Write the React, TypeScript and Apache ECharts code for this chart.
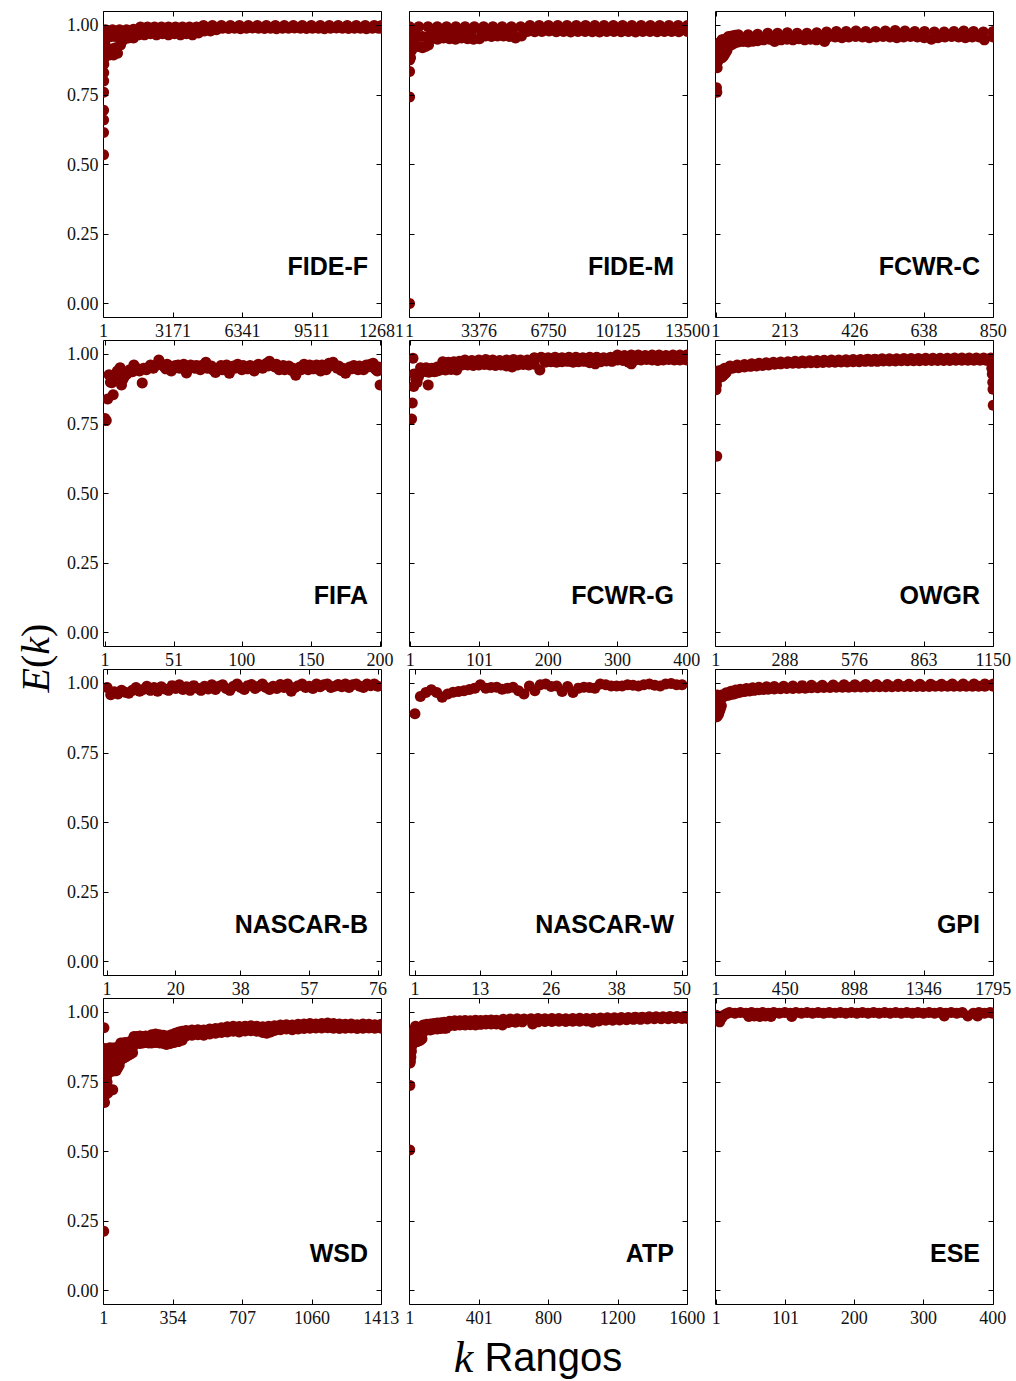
import React, { useEffect, useRef } from "react";
import * as echarts from "echarts";

type P = [number, number][];

// ---------- panel metadata ----------
const panelNames = ["FIDE-F", "FIDE-M", "FCWR-C", "FIFA", "FCWR-G", "OWGR", "NASCAR-B", "NASCAR-W", "GPI", "WSD", "ATP", "ESE"];
const panelSizes = [12681, 13500, 850, 200, 400, 1150, 76, 50, 1795, 1413, 1600, 400];
const xTicks: number[][] = [
  [1, 3171, 6341, 9511, 12681],
  [1, 3376, 6750, 10125, 13500],
  [1, 213, 426, 638, 850],
  [1, 51, 100, 150, 200],
  [1, 101, 200, 300, 400],
  [1, 288, 576, 863, 1150],
  [1, 20, 38, 57, 76],
  [1, 13, 26, 38, 50],
  [1, 450, 898, 1346, 1795],
  [1, 354, 707, 1060, 1413],
  [1, 401, 800, 1200, 1600],
  [1, 101, 200, 300, 400],
];
const yTicks = [0, 0.25, 0.5, 0.75, 1.0];

// ---------- data (k, E(k)) ----------
const fideF: P = [
  [1, 0.535], [2, 0.615], [3, 0.66], [4, 0.695], [5, 0.76], [7, 0.8], [10, 0.83], [14, 0.86], [20, 0.88], [30, 0.9], [45, 0.92], [65, 0.94], [90, 0.96], [120, 0.975],
  [275, 0.894], [457, 0.894], [640, 0.9], [776, 0.93], [913, 0.948], [1141, 0.955], [1369, 0.955], [1597, 0.966], [1871, 0.966], [2144, 0.97], [2418, 0.966], [2692, 0.97], [2965, 0.966], [3239, 0.97], [3513, 0.966], [3786, 0.97], [4060, 0.966], [4333, 0.973], [4607, 0.98], [4880, 0.98], [5154, 0.984], [5428, 0.99], [5702, 0.989], [5976, 0.99], [6249, 0.988], [6523, 0.99], [6796, 0.991], [7070, 0.99], [7344, 0.989], [7617, 0.99], [7891, 0.988], [8164, 0.99], [8438, 0.99], [8712, 0.991], [8985, 0.99], [9259, 0.989], [9532, 0.99], [9806, 0.99], [10080, 0.988], [10353, 0.99], [10627, 0.991], [10900, 0.99], [11174, 0.989], [11448, 0.99], [11721, 0.99], [11995, 0.988], [12268, 0.99], [12542, 0.99], [12681, 0.99],
  [183, 0.915], [366, 0.915], [549, 0.92], [183, 0.96], [366, 0.96], [549, 0.96], [731, 0.96], [913, 0.968], [1141, 0.97], [1369, 0.972],
  [92, 0.984], [411, 0.984], [731, 0.984], [1050, 0.984], [1369, 0.986], [1688, 0.994], [2007, 0.994], [2327, 0.994], [2646, 0.994], [2965, 0.994], [3284, 0.994], [3603, 0.994], [3923, 0.994], [4242, 0.994], [4561, 1.0], [4970, 1.0], [5380, 1.0], [5790, 1.0], [6200, 1.0], [6610, 1.0], [7020, 1.0], [7430, 1.0], [7840, 1.0], [8250, 1.0], [8660, 1.0], [9070, 1.0], [9480, 1.0], [9890, 1.0], [10300, 1.0], [10710, 1.0], [11120, 1.0], [11530, 1.0], [11940, 1.0], [12350, 1.0], [12681, 1.0],
];

const fideM: P = [
  [1, 0.0], [2, 0.743], [3, 0.834], [5, 0.876],
  [50, 0.884], [100, 0.91], [150, 0.94], [200, 0.96], [250, 0.98],
  [340, 0.924], [486, 0.924], [632, 0.92], [778, 0.924], [923, 0.93], [1070, 0.952], [1360, 0.95], [1652, 0.955], [1943, 0.952], [2234, 0.95], [2526, 0.955], [2817, 0.952], [3108, 0.95], [3400, 0.952], [3691, 0.962], [3983, 0.96], [4274, 0.962], [4565, 0.962], [4857, 0.96], [5148, 0.955], [5440, 0.962], [5730, 0.978], [6080, 0.977], [6430, 0.978], [6780, 0.98], [7130, 0.977], [7480, 0.978], [7830, 0.976], [8180, 0.978], [8530, 0.978], [8880, 0.977], [9230, 0.976], [9580, 0.978], [9930, 0.978], [10280, 0.977], [10630, 0.978], [10980, 0.976], [11330, 0.978], [11680, 0.978], [12030, 0.977], [12380, 0.978], [12730, 0.978], [13080, 0.977], [13500, 0.978],
  [340, 0.96], [632, 0.96], [923, 0.96], [1070, 0.975], [1500, 0.975], [2000, 0.975], [2500, 0.975], [3000, 0.975], [3500, 0.978], [4000, 0.98], [4500, 0.98], [5000, 0.98],
  [1, 0.995], [450, 0.995], [900, 0.995], [1350, 0.995], [1800, 0.995], [2250, 0.995], [2700, 0.995], [3150, 0.995], [3600, 0.995], [4050, 0.995], [4500, 0.995], [4950, 0.995], [5400, 0.995], [5850, 1.0], [6300, 1.0], [6750, 1.0], [7200, 1.0], [7650, 1.0], [8100, 1.0], [8550, 1.0], [9000, 1.0], [9450, 1.0], [9900, 1.0], [10350, 1.0], [10800, 1.0], [11250, 1.0], [11700, 1.0], [12150, 1.0], [12600, 1.0], [13050, 1.0], [13500, 1.0],
];

const fcwrC: P = [
  [3, 0.776], [4, 0.76],
  [5, 0.848], [7, 0.87], [9, 0.89], [11, 0.91], [13, 0.93], [15, 0.94],
  [20, 0.884], [25, 0.89], [30, 0.9], [35, 0.91], [20, 0.916], [30, 0.925], [20, 0.948], [28, 0.95], [36, 0.955],
  [40, 0.93], [48, 0.93], [56, 0.935], [64, 0.94], [40, 0.96], [50, 0.962], [60, 0.965],
  [70, 0.94], [85, 0.942], [100, 0.94], [115, 0.943], [129, 0.945], [147, 0.948], [165, 0.95], [181, 0.942], [201, 0.948], [219, 0.95], [237, 0.948], [255, 0.952], [273, 0.948], [291, 0.95], [309, 0.948], [327, 0.95], [334, 0.942], [345, 0.958], [366, 0.958], [387, 0.956], [408, 0.958], [429, 0.96], [450, 0.958], [471, 0.956], [492, 0.958], [513, 0.96], [534, 0.958], [555, 0.956], [576, 0.958], [597, 0.96], [618, 0.958], [639, 0.956], [661, 0.95], [681, 0.956], [702, 0.958], [723, 0.96], [744, 0.958], [765, 0.956], [786, 0.958], [807, 0.958], [823, 0.948], [850, 0.958],
  [70, 0.966], [100, 0.966], [129, 0.968], [160, 0.972], [190, 0.972], [220, 0.974], [250, 0.972], [280, 0.972], [310, 0.974], [340, 0.976], [370, 0.978], [400, 0.978], [430, 0.98], [460, 0.978], [490, 0.978], [520, 0.98], [550, 0.982], [580, 0.98], [610, 0.978], [640, 0.978], [670, 0.976], [700, 0.976], [730, 0.978], [760, 0.98], [790, 0.978], [820, 0.976], [850, 0.978],
];

const fifa: P = [
  [1, 0.77], [2, 0.762], [3, 0.84], [4, 0.927], [5, 0.9], [6, 0.898], [7, 0.855], [8, 0.92], [9, 0.93], [10, 0.94], [12, 0.952], [13, 0.89], [14, 0.91], [15, 0.92], [17, 0.93], [19, 0.945], [21, 0.938], [22, 0.962], [24, 0.95], [26, 0.94], [28, 0.897], [29, 0.95], [31, 0.945], [33, 0.955], [34, 0.962], [36, 0.95], [38, 0.96], [40, 0.98], [42, 0.965],
  [44, 0.955], [46, 0.965], [49, 0.94], [52, 0.96], [55, 0.95], [58, 0.965], [60, 0.933], [62, 0.955], [64, 0.958], [67, 0.96], [70, 0.945], [74, 0.972], [76, 0.955], [79, 0.945], [81, 0.935], [85, 0.96], [88, 0.955], [91, 0.932], [94, 0.958], [97, 0.965], [100, 0.945], [103, 0.955], [106, 0.96], [109, 0.94], [112, 0.965], [115, 0.95], [118, 0.968], [120, 0.975], [124, 0.955], [127, 0.945], [130, 0.96], [133, 0.95], [136, 0.942], [139, 0.925], [142, 0.955], [145, 0.965], [148, 0.945], [151, 0.958], [154, 0.962], [157, 0.94], [160, 0.955], [163, 0.968], [166, 0.972], [169, 0.95], [172, 0.942], [175, 0.932], [178, 0.955], [181, 0.96], [184, 0.945], [187, 0.952], [190, 0.962], [193, 0.965], [195, 0.968], [197, 0.945], [198, 0.94], [199, 0.955], [200, 0.89],
  [45, 0.948], [48, 0.958], [51, 0.95], [54, 0.962], [57, 0.952], [59, 0.945], [63, 0.962], [66, 0.95], [69, 0.958], [72, 0.962], [75, 0.95], [78, 0.958], [80, 0.95], [83, 0.948], [86, 0.945], [89, 0.962], [92, 0.948], [95, 0.95], [98, 0.955], [101, 0.96], [104, 0.948], [107, 0.952], [110, 0.958], [113, 0.955], [116, 0.962], [119, 0.958], [122, 0.962], [125, 0.965], [128, 0.952], [131, 0.945], [134, 0.958], [137, 0.95], [140, 0.94], [143, 0.945], [146, 0.955], [149, 0.962], [152, 0.948], [155, 0.952], [158, 0.962], [161, 0.945], [164, 0.958], [167, 0.96], [170, 0.958], [173, 0.95], [176, 0.945], [179, 0.948], [182, 0.952], [185, 0.958], [188, 0.945], [191, 0.955], [194, 0.958], [196, 0.95],
];

const fcwrG: P = [
  [3, 0.768], [4, 0.825], [5, 0.986], [6, 0.885], [27, 0.89],
  [7, 0.93], [9, 0.91], [11, 0.9], [13, 0.92], [15, 0.935],
  [16, 0.938], [20, 0.94], [24, 0.938], [28, 0.936], [32, 0.94], [36, 0.938], [40, 0.94],
  [16, 0.952], [24, 0.952], [32, 0.95], [40, 0.955],
  [44, 0.944], [52, 0.944], [60, 0.946], [68, 0.944], [76, 0.962], [84, 0.962], [92, 0.96], [100, 0.962], [108, 0.964], [116, 0.962], [124, 0.96], [132, 0.962], [140, 0.958], [148, 0.955], [156, 0.962], [164, 0.964], [172, 0.962], [180, 0.965], [188, 0.944], [196, 0.972], [204, 0.974], [212, 0.972], [220, 0.974], [228, 0.975], [236, 0.972], [244, 0.974], [252, 0.975], [260, 0.97], [268, 0.966], [276, 0.974], [284, 0.976], [292, 0.975], [300, 0.98], [308, 0.978], [316, 0.972], [320, 0.966], [326, 0.98], [334, 0.98], [342, 0.982], [350, 0.98], [358, 0.978], [366, 0.98], [374, 0.982], [382, 0.98], [390, 0.98], [398, 0.982], [400, 0.98],
  [48, 0.974], [56, 0.972], [64, 0.974], [72, 0.975], [80, 0.98], [90, 0.978], [100, 0.98], [110, 0.982], [120, 0.98], [130, 0.978], [140, 0.98], [150, 0.982], [160, 0.98], [170, 0.98], [180, 0.988], [190, 0.99], [200, 0.988], [210, 0.99], [220, 0.988], [230, 0.99], [240, 0.99], [250, 0.988], [260, 0.99], [270, 0.99], [280, 0.988], [290, 0.99], [300, 0.998], [310, 0.996], [320, 0.998], [330, 0.998], [340, 0.996], [350, 0.998], [360, 0.998], [370, 0.996], [380, 0.998], [390, 0.998], [400, 0.998],
];

const owgr: P = [
  [5, 0.634],
  [2, 0.873], [4, 0.89], [6, 0.91], [8, 0.93], [10, 0.94], [14, 0.93], [18, 0.92],
  [26, 0.92], [32, 0.925], [38, 0.93], [44, 0.935], [26, 0.944], [38, 0.95],
  [50, 0.945], [70, 0.95], [95, 0.952], [120, 0.955], [145, 0.957], [170, 0.958], [195, 0.96], [220, 0.962], [245, 0.965], [270, 0.966], [295, 0.967], [320, 0.968], [345, 0.968], [370, 0.969], [395, 0.97], [420, 0.97], [445, 0.971], [470, 0.972], [495, 0.972], [520, 0.973], [545, 0.973], [570, 0.974], [595, 0.974], [620, 0.975], [645, 0.975], [670, 0.975], [695, 0.976], [720, 0.976], [745, 0.976], [770, 0.977], [795, 0.977], [820, 0.977], [845, 0.977], [870, 0.978], [895, 0.978], [920, 0.978], [945, 0.978], [970, 0.978], [995, 0.979], [1020, 0.979], [1045, 0.979], [1070, 0.979], [1095, 0.979], [1120, 0.979], [1135, 0.979],
  [60, 0.958], [90, 0.962], [120, 0.964], [150, 0.966], [180, 0.968], [210, 0.97], [240, 0.972], [270, 0.973], [300, 0.974], [330, 0.975], [360, 0.976], [390, 0.977], [420, 0.978], [450, 0.979], [480, 0.98], [510, 0.98], [540, 0.981], [570, 0.982], [600, 0.982], [630, 0.983], [660, 0.983], [690, 0.984], [720, 0.984], [750, 0.984], [780, 0.985], [810, 0.985], [840, 0.985], [870, 0.986], [900, 0.986], [930, 0.986], [960, 0.986], [990, 0.987], [1020, 0.987], [1050, 0.987], [1080, 0.987], [1110, 0.987], [1140, 0.987],
  [1142, 0.97], [1144, 0.95], [1146, 0.93], [1148, 0.9], [1149, 0.875], [1150, 0.817],
];

const nascarB: number[] = [
  0.985, 0.959, 0.97, 0.962, 0.975, 0.968, 0.965, 0.975, 0.985, 0.972, 0.978, 0.99, 0.975, 0.985, 0.972, 0.988, 0.98, 0.975, 0.992, 0.982,
  0.995, 0.978, 0.988, 0.975, 0.992, 0.983, 0.975, 0.99, 0.98, 0.995, 0.978, 0.99, 0.995, 0.982, 0.975, 0.99, 0.998, 0.985, 0.978, 0.992,
  0.996, 0.982, 0.99, 0.998, 0.985, 0.978, 0.99, 0.982, 0.996, 0.985, 0.998, 0.972, 0.985, 0.992, 0.998, 0.985, 0.99, 0.982, 0.998, 0.988,
  0.995, 0.998, 0.985, 0.99, 0.996, 0.988, 0.998, 0.985, 0.995, 0.998, 0.99, 0.985, 0.998, 0.992, 0.998, 0.99,
];

const nascarW: number[] = [
  0.891, 0.953, 0.967, 0.977, 0.967, 0.95, 0.962, 0.968, 0.971, 0.974, 0.978, 0.983, 0.995, 0.983, 0.985, 0.986, 0.979, 0.983, 0.986, 0.974,
  0.962, 0.991, 0.974, 0.995, 0.998, 0.989, 0.991, 0.971, 0.989, 0.967, 0.983, 0.986, 0.985, 0.983, 0.998, 0.995, 0.991, 0.991, 0.991, 0.995,
  0.993, 0.991, 0.995, 0.998, 0.993, 0.991, 0.998, 1.0, 0.995, 0.995,
];

const gpi: P = [
  [3, 0.88], [8, 0.88], [14, 0.885], [20, 0.89], [26, 0.9], [32, 0.91], [38, 0.92],
  [3, 0.92], [10, 0.925], [18, 0.935], [26, 0.945], [34, 0.952], [42, 0.956], [3, 0.955], [12, 0.958],
  [45, 0.95], [60, 0.955], [80, 0.957], [100, 0.96], [120, 0.962], [140, 0.966], [160, 0.968], [190, 0.971], [220, 0.973], [250, 0.975], [280, 0.977], [310, 0.978], [340, 0.979], [380, 0.98], [420, 0.981], [460, 0.982], [500, 0.982], [540, 0.983], [580, 0.983], [620, 0.984], [660, 0.984], [700, 0.985], [740, 0.985], [780, 0.986], [820, 0.986], [860, 0.986], [900, 0.987], [940, 0.987], [980, 0.987], [1020, 0.988], [1060, 0.988], [1100, 0.988], [1140, 0.988], [1180, 0.989], [1220, 0.989], [1260, 0.989], [1300, 0.989], [1340, 0.989], [1380, 0.989], [1420, 0.99], [1460, 0.99], [1500, 0.99], [1540, 0.99], [1580, 0.99], [1620, 0.99], [1660, 0.99], [1700, 0.99], [1740, 0.99], [1795, 0.99],
  [40, 0.958], [70, 0.966], [100, 0.972], [130, 0.976], [160, 0.979], [200, 0.982], [240, 0.984], [280, 0.986], [330, 0.988], [380, 0.989], [440, 0.99], [500, 0.991], [560, 0.992], [620, 0.993], [690, 0.993], [760, 0.994], [830, 0.995], [900, 0.995], [970, 0.996], [1040, 0.996], [1110, 0.996], [1180, 0.997], [1250, 0.997], [1320, 0.997], [1390, 0.997], [1460, 0.997], [1530, 0.998], [1600, 0.998], [1670, 0.998], [1740, 0.998], [1795, 0.998],
];

const wsd: P = [
  [1, 0.213], [2, 0.945], [3, 0.695], [5, 0.676], [47, 0.722],
  [6, 0.87], [8, 0.85], [10, 0.83], [12, 0.81], [14, 0.79], [16, 0.77], [18, 0.75], [20, 0.73], [22, 0.71], [25, 0.8], [28, 0.86],
  [32, 0.873], [40, 0.87], [48, 0.872], [56, 0.87], [64, 0.873], [72, 0.875], [80, 0.873],
  [32, 0.83], [40, 0.83], [48, 0.835], [56, 0.83], [64, 0.83], [72, 0.835], [80, 0.84],
  [32, 0.79], [40, 0.788], [56, 0.79], [64, 0.79], [72, 0.8], [80, 0.81],
  [88, 0.89], [100, 0.89], [112, 0.892], [124, 0.89], [136, 0.895], [148, 0.9],
  [88, 0.86], [100, 0.86], [112, 0.86], [124, 0.865], [136, 0.87], [148, 0.875],
  [88, 0.83], [100, 0.835], [112, 0.84], [124, 0.845], [136, 0.85], [148, 0.855],
  [155, 0.913], [170, 0.913], [185, 0.915], [200, 0.913], [215, 0.915], [230, 0.913],
  [155, 0.89], [170, 0.89], [185, 0.888], [200, 0.89], [215, 0.892], [230, 0.89],
  [245, 0.92], [265, 0.922], [285, 0.92], [305, 0.918], [325, 0.915], [345, 0.92], [365, 0.925], [385, 0.93], [400, 0.932],
  [245, 0.89], [265, 0.892], [285, 0.89], [305, 0.888], [320, 0.885], [340, 0.888], [360, 0.892], [380, 0.895], [400, 0.9],
  [420, 0.935], [450, 0.937], [480, 0.938], [510, 0.937], [540, 0.94], [570, 0.942],
  [420, 0.915], [450, 0.918], [480, 0.92], [510, 0.918], [540, 0.922], [570, 0.925],
  [600, 0.945], [630, 0.948], [660, 0.95], [690, 0.949], [720, 0.95], [750, 0.952], [780, 0.95], [810, 0.948], [840, 0.95],
  [600, 0.928], [630, 0.93], [660, 0.932], [690, 0.93], [720, 0.933], [750, 0.934], [780, 0.932], [810, 0.928], [830, 0.925], [850, 0.93],
  [870, 0.952], [900, 0.955], [930, 0.956], [960, 0.955], [990, 0.957], [1020, 0.958], [1050, 0.96], [1080, 0.958], [1110, 0.96], [1140, 0.962], [1170, 0.96], [1200, 0.958], [1230, 0.957], [1260, 0.958], [1290, 0.956], [1320, 0.958], [1350, 0.957], [1380, 0.956], [1413, 0.957],
  [870, 0.935], [900, 0.938], [930, 0.94], [960, 0.938], [990, 0.94], [1020, 0.942], [1050, 0.943], [1080, 0.944], [1110, 0.944], [1140, 0.945], [1170, 0.943], [1200, 0.942], [1230, 0.943], [1260, 0.944], [1290, 0.942], [1320, 0.943], [1350, 0.944], [1380, 0.943], [1413, 0.943],
];

const atp: P = [
  [1, 0.505], [2, 0.737], [3, 0.818],
  [5, 0.825], [8, 0.84], [11, 0.86], [14, 0.88], [17, 0.9], [20, 0.915], [25, 0.93], [30, 0.94], [35, 0.95],
  [42, 0.943], [52, 0.945], [62, 0.943], [72, 0.945], [42, 0.92], [52, 0.92], [62, 0.92], [72, 0.922], [42, 0.895], [52, 0.897], [62, 0.9], [72, 0.905],
  [80, 0.955], [100, 0.957], [120, 0.958], [140, 0.96], [160, 0.962], [180, 0.963], [200, 0.965],
  [80, 0.935], [100, 0.937], [120, 0.937], [140, 0.94], [160, 0.94], [180, 0.942], [200, 0.943], [211, 0.943],
  [230, 0.968], [260, 0.97], [290, 0.97], [320, 0.971], [350, 0.97], [380, 0.972], [410, 0.971], [440, 0.972], [470, 0.973], [500, 0.972],
  [230, 0.952], [260, 0.953], [290, 0.955], [320, 0.955], [350, 0.956], [380, 0.955], [410, 0.957], [440, 0.958], [470, 0.958], [500, 0.958], [535, 0.955],
  [540, 0.975], [580, 0.976], [620, 0.977], [660, 0.976], [700, 0.977], [740, 0.978], [780, 0.977], [820, 0.978], [860, 0.978], [900, 0.977], [940, 0.978], [980, 0.979], [1020, 0.978], [1060, 0.979],
  [570, 0.964], [610, 0.965], [650, 0.966], [709, 0.958], [740, 0.966], [780, 0.967], [820, 0.967], [860, 0.968], [900, 0.967], [940, 0.968], [980, 0.968], [1020, 0.969], [1054, 0.965], [1090, 0.969],
  [1100, 0.98], [1140, 0.981], [1180, 0.981], [1220, 0.982], [1260, 0.982], [1300, 0.983], [1340, 0.983], [1380, 0.984], [1420, 0.984], [1460, 0.984], [1500, 0.985], [1540, 0.985], [1580, 0.985], [1600, 0.985],
  [1130, 0.972], [1170, 0.972], [1210, 0.973], [1250, 0.974], [1290, 0.975], [1330, 0.975], [1370, 0.976], [1410, 0.977], [1450, 0.977], [1490, 0.977], [1530, 0.978], [1570, 0.978], [1600, 0.978],
];

const ese: P = [
  [1, 0.99], [3, 0.98], [6, 0.966], [9, 0.98], [12, 0.99], [16, 0.995],
  [20, 1.0], [28, 0.997], [36, 1.0], [44, 0.997], [48, 0.985], [52, 1.0], [56, 0.987], [60, 0.997], [64, 0.985], [68, 1.0], [72, 0.987], [76, 0.997], [80, 0.985], [84, 1.0], [92, 0.997], [100, 1.0], [108, 0.997], [110, 0.985], [116, 1.0], [124, 0.997], [132, 1.0], [140, 0.997], [148, 1.0], [156, 0.997], [164, 1.0], [172, 0.997], [180, 1.0], [188, 0.997], [196, 1.0], [204, 0.997], [212, 1.0], [220, 0.997], [228, 1.0], [236, 0.997], [244, 1.0], [252, 0.997], [260, 1.0], [268, 0.997], [276, 1.0], [284, 0.997], [292, 1.0], [300, 0.997], [308, 1.0], [316, 0.997], [324, 1.0], [330, 0.987], [332, 0.997], [340, 1.0], [348, 0.997], [356, 1.0], [364, 0.987], [372, 0.997], [378, 0.987], [380, 1.0], [388, 0.997], [396, 1.0], [400, 0.997],
];

const rankSeries = (vals: number[]): P => vals.map((v, i) => [i + 1, v] as [number, number]);

const panelData: P[] = [fideF, fideM, fcwrC, fifa, fcwrG, owgr, rankSeries(nascarB), rankSeries(nascarW), gpi, wsd, atp, ese];

// ---------- layout ----------
const COL_LEFT = [104, 410, 716];
const ROW_TOP = [12, 341, 670, 999];
const PW = 278;
const PH = 306;
const MARKER = "#7f0000";
const SERIF = "'Liberation Serif', 'DejaVu Serif', serif";
const SANS = "'Liberation Sans', Arial, sans-serif";

function buildOption() {
  const grids: any[] = [];
  const xAxes: any[] = [];
  const yAxes: any[] = [];
  const series: any[] = [];
  const graphics: any[] = [];
  const n = panelNames.length;

  for (let i = 0; i < n; i++) {
    const r = Math.floor(i / 3);
    const c = i % 3;
    grids.push({ left: COL_LEFT[c] - 0.5, top: ROW_TOP[r] - 0.5, width: PW, height: PH, show: true, borderColor: "#000", borderWidth: 1, backgroundColor: "transparent" });
  }
  const tickStyle = { color: "#000", width: 1 };
  // bottom x axes
  for (let i = 0; i < n; i++) {
    xAxes.push({
      gridIndex: i, type: "value", position: "bottom", min: 0, max: panelSizes[i] + 1, z: 10,
      axisLine: { show: false, onZero: false }, splitLine: { show: false },
      axisTick: { show: true, inside: true, length: 5, customValues: xTicks[i], lineStyle: tickStyle },
      axisLabel: { show: true, customValues: xTicks[i], fontFamily: SERIF, fontSize: 18, color: "#111", margin: 4, formatter: (v: number) => String(v) },
    });
  }
  // top x axes
  for (let i = 0; i < n; i++) {
    xAxes.push({
      gridIndex: i, type: "value", position: "top", min: 0, max: panelSizes[i] + 1, z: 10,
      axisLine: { show: false, onZero: false }, splitLine: { show: false },
      axisTick: { show: true, inside: true, length: 5, customValues: xTicks[i], lineStyle: tickStyle },
      axisLabel: { show: false },
    });
  }
  // left y axes
  for (let i = 0; i < n; i++) {
    const c = i % 3;
    yAxes.push({
      gridIndex: i, type: "value", position: "left", min: -0.05, max: 1.05, z: 10,
      axisLine: { show: false, onZero: false }, splitLine: { show: false },
      axisTick: { show: true, inside: true, length: 5, customValues: yTicks, lineStyle: tickStyle },
      axisLabel: { show: c === 0, customValues: yTicks, fontFamily: SERIF, fontSize: 18, color: "#111", margin: 5, formatter: (v: number) => v.toFixed(2) },
    });
  }
  // right y axes
  for (let i = 0; i < n; i++) {
    yAxes.push({
      gridIndex: i, type: "value", position: "right", min: -0.05, max: 1.05, z: 10,
      axisLine: { show: false, onZero: false }, splitLine: { show: false },
      axisTick: { show: true, inside: true, length: 5, customValues: yTicks, lineStyle: tickStyle },
      axisLabel: { show: false },
    });
  }
  for (let i = 0; i < n; i++) {
    series.push({
      type: "scatter", name: panelNames[i], xAxisIndex: i, yAxisIndex: i, data: panelData[i],
      symbol: "circle", symbolSize: 11, itemStyle: { color: MARKER, opacity: 1 }, silent: true, z: 2,
    });
  }

  // white masks that clip markers at panel edges
  for (let r = 0; r < 4; r++) {
    const top = ROW_TOP[r];
    const strips = [
      [0, 103],
      [382, 409],
      [688, 715],
      [994, 1016],
    ];
    for (const [a, b] of strips) {
      graphics.push({ type: "rect", z: 5, silent: true, shape: { x: a, y: top - 1, width: b - a, height: PH + 1 }, style: { fill: "#fff" } });
    }
  }
  // panel names
  for (let i = 0; i < n; i++) {
    const r = Math.floor(i / 3);
    const c = i % 3;
    graphics.push({
      type: "text", z: 20, x: COL_LEFT[c] + PW - 14, y: ROW_TOP[r] + 254,
      style: { text: panelNames[i], fill: "#000", font: `bold 25px ${SANS}`, align: "right", verticalAlign: "middle" },
    });
  }
  // axis titles
  graphics.push({
    type: "text", z: 20, x: 35, y: 658, rotation: Math.PI / 2,
    style: {
      text: "{i|E}{n|(}{i|k}{n|)}", align: "center", verticalAlign: "middle",
      rich: {
        i: { fontFamily: SERIF, fontStyle: "italic", fontSize: 40, fill: "#000" },
        n: { fontFamily: SERIF, fontSize: 40, fill: "#000" },
      },
    },
  });
  graphics.push({
    type: "text", z: 20, x: 538, y: 1357,
    style: {
      text: "{k|k}{r| Rangos}", align: "center", verticalAlign: "middle",
      rich: {
        k: { fontFamily: SERIF, fontStyle: "italic", fontSize: 44, fill: "#000" },
        r: { fontFamily: SANS, fontSize: 40, fill: "#000" },
      },
    },
  });

  return {
    animation: false,
    backgroundColor: "#fff",
    grid: grids,
    xAxis: xAxes,
    yAxis: yAxes,
    series,
    graphic: { elements: graphics },
  };
}

export default function App() {
  const ref = useRef<HTMLDivElement>(null);
  useEffect(() => {
    if (!ref.current) return;
    const chart = echarts.init(ref.current, undefined, { renderer: "svg" });
    chart.setOption(buildOption() as any);
    return () => chart.dispose();
  }, []);
  return <div ref={ref} style={{ position: "absolute", left: 0, top: 0, width: 1016, height: 1381, background: "#fff" }} />;
}
